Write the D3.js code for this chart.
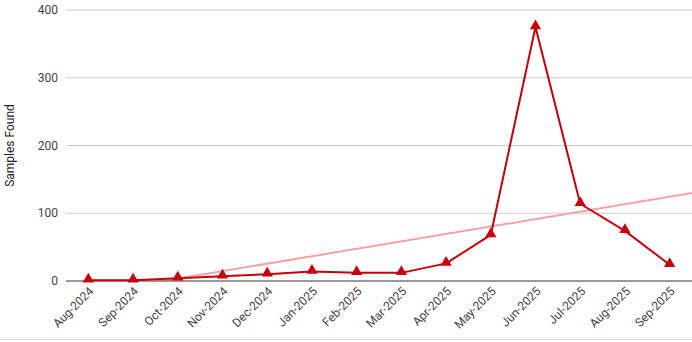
<!DOCTYPE html>
<html>
<head>
<meta charset="utf-8">
<script src="https://cdn.jsdelivr.net/npm/d3@7"></script>
<style>
  body { margin: 0; background: #fff; }
  svg { display: block; font-family: Roboto, Arial, sans-serif; }
</style>
</head>
<body>
<svg id="chart"></svg>
<script>
const months = ['Aug-2024', 'Sep-2024', 'Oct-2024', 'Nov-2024', 'Dec-2024', 'Jan-2025', 'Feb-2025',
  'Mar-2025', 'Apr-2025', 'May-2025', 'Jun-2025', 'Jul-2025', 'Aug-2025', 'Sep-2025'];
const samples = [1, 1, 4, 7, 10, 14, 12, 12, 26, 68, 375, 114, 74, 24];
const yTicks = [0, 100, 200, 300, 400];

const width = 692;
const height = 342;
const margin = { top: 10, right: 0, bottom: 61, left: 66 };

const svg = d3.select('#chart')
    .attr('width', width)
    .attr('height', height);

const x = d3.scaleBand()
  .domain(months)
  .range([margin.left, width - margin.right]);

const y = d3.scaleLinear()
  .domain([0, 400])
  .range([height - margin.bottom, margin.top]);

const cx = d => x(d) + x.bandwidth() / 2;

// gridlines + y labels
svg.append('g')
  .selectAll('line')
  .data(yTicks.slice(1))
  .enter().append('line')
    .attr('x1', margin.left)
    .attr('x2', width - margin.right)
    .attr('y1', d => y(d))
    .attr('y2', d => y(d))
    .attr('stroke', '#cccccc')
    .attr('stroke-width', 1);

svg.append('g')
  .selectAll('text')
  .data(yTicks)
  .enter().append('text')
    .attr('x', margin.left - 8)
    .attr('y', d => y(d))
    .attr('dy', '0.35em')
    .attr('text-anchor', 'end')
    .attr('font-size', 12)
    .attr('fill', '#444')
    .text(d => d);

svg.append('text')
  .attr('transform', 'translate(14,' + ((margin.top + height - margin.bottom) / 2) + ') rotate(-90)')
  .attr('text-anchor', 'middle')
  .attr('font-size', 12)
  .attr('fill', '#222')
  .text('Samples Found');

// x labels
svg.append('g')
  .selectAll('text')
  .data(months)
  .enter().append('text')
    .attr('transform', d => 'translate(' + (cx(d) + 6) + ',' + (y(0) + 11) + ') rotate(-45)')
    .attr('text-anchor', 'end')
    .attr('font-size', 12)
    .attr('fill', '#444')
    .text(d => d);

// linear trendline from the data
const xs = d3.range(samples.length);
const mx = d3.mean(xs);
const my = d3.mean(samples);
const slope = d3.sum(xs, i => (i - mx) * (samples[i] - my)) / d3.sum(xs, i => (i - mx) * (i - mx));
const intercept = my - slope * mx;
const step = x.step();
const idx = px => (px - cx(months[0])) / step;

svg.append('clipPath')
  .attr('id', 'plot')
  .append('rect')
    .attr('x', margin.left)
    .attr('y', margin.top)
    .attr('width', width - margin.left - margin.right)
    .attr('height', y(0) - margin.top);

svg.append('line')
  .attr('clip-path', 'url(#plot)')
  .attr('x1', margin.left)
  .attr('x2', width - margin.right)
  .attr('y1', y(intercept + slope * idx(margin.left)))
  .attr('y2', y(intercept + slope * idx(width - margin.right)))
  .attr('stroke', '#f4a3a3')
  .attr('stroke-width', 2);

// baseline
svg.append('line')
  .attr('x1', margin.left)
  .attr('x2', width - margin.right)
  .attr('y1', y(0))
  .attr('y2', y(0))
  .attr('stroke', '#777')
  .attr('stroke-width', 1.5);

// series
const line = d3.line()
  .x((d, i) => cx(months[i]))
  .y(d => y(d));

svg.append('path')
  .datum(samples)
  .attr('d', line)
  .attr('fill', 'none')
  .attr('stroke', '#c8000a')
  .attr('stroke-width', 2)
  .attr('stroke-linejoin', 'round');

svg.append('g')
  .selectAll('path')
  .data(samples)
  .enter().append('path')
    .attr('d', d3.symbol().type(d3.symbolTriangle).size(55))
    .attr('transform', (d, i) => 'translate(' + cx(months[i]) + ',' + (y(d) - 1) + ')')
    .attr('fill', '#c8000a');

// bottom border
svg.append('line')
  .attr('x1', 0)
  .attr('x2', width)
  .attr('y1', height - 2.5)
  .attr('y2', height - 2.5)
  .attr('stroke', '#ddd')
  .attr('stroke-width', 1);
</script>
</body>
</html>
